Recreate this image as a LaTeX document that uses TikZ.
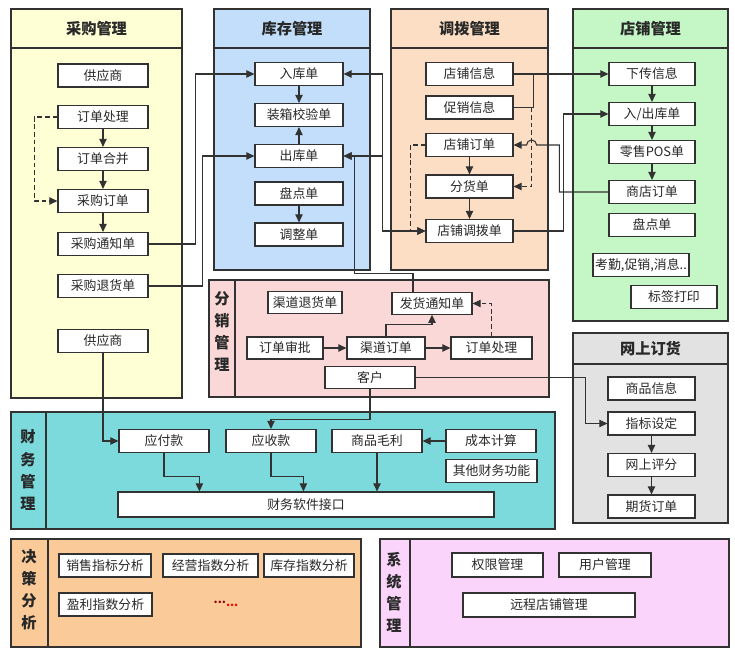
\documentclass[tikz,border=0pt]{standalone}
\usepackage{fontspec}
\setmainfont{Noto Sans CJK SC}
\usetikzlibrary{arrows.meta,calc}
\definecolor{framegray}{RGB}{50,50,50}
\definecolor{textgray}{RGB}{40,40,40}
\definecolor{cgyellow}{RGB}{255,255,214}
\definecolor{kcblue}{RGB}{194,222,250}
\definecolor{dbpeach}{RGB}{252,222,196}
\definecolor{dpgreen}{RGB}{196,246,198}
\definecolor{wsgray}{RGB}{226,226,226}
\definecolor{fxpink}{RGB}{250,216,216}
\definecolor{cwteal}{RGB}{124,218,220}
\definecolor{jcorange}{RGB}{250,202,152}
\definecolor{xtviolet}{RGB}{250,212,250}
\tikzset{
  panel/.style={draw=framegray, line width=0.9pt},
  box/.style={rectangle, draw=framegray, line width=1pt, fill=white, text=textgray,
              minimum width=2.64cm, minimum height=0.69cm, inner sep=0pt,
              font=\fontsize{11}{13}\selectfont},
  cgbox/.style={box, minimum width=2.7cm},
  paneltitle/.style={text=textgray, font=\fontsize{13}{15}\selectfont\bfseries},
  vtitle/.style={text=textgray, align=center, font=\fontsize{13}{18.8}\selectfont\bfseries},
  arrow/.style={-{Triangle[length=2.4mm,width=2.2mm]}, line width=0.9pt, framegray},
  arrowboth/.style={arrow, {Triangle[length=2.4mm,width=2.2mm]}-{Triangle[length=2.4mm,width=2.2mm]}},
  dashline/.style={arrow, dash pattern=on 4pt off 2.5pt},
  link/.style={line width=0.9pt, framegray},
}
\begin{document}
\begin{tikzpicture}[x=0.03cm, y=-0.03cm]
\fill[white] (0,0) rectangle (735,657);
\useasboundingbox (0,0) rectangle (735,657);

% panels
\draw[panel, fill=cgyellow] (11,9) rectangle (182,398);
\draw[panel] (11,48) -- (182,48);
\draw[panel, fill=kcblue] (214,9) rectangle (370,270);
\draw[panel] (214,48) -- (370,48);
\draw[panel, fill=dbpeach] (391,9) rectangle (548,270);
\draw[panel] (391,48) -- (548,48);
\draw[panel, fill=dpgreen] (573,9) rectangle (728,321);
\draw[panel] (573,48) -- (728,48);
\draw[panel, fill=wsgray] (573,333) rectangle (728,523);
\draw[panel] (573,364) -- (728,364);
\draw[panel, fill=fxpink] (209,280) rectangle (549,397);
\draw[panel] (235,280) -- (235,397);
\draw[panel, fill=cwteal] (11,412) rectangle (555,529);
\draw[panel] (46,412) -- (46,529);
\draw[panel, fill=jcorange] (11,539) rectangle (361,647);
\draw[panel] (48,539) -- (48,647);
\draw[panel, fill=xtviolet] (380,539) rectangle (729,647);
\draw[panel] (410,539) -- (410,647);

\node[paneltitle] (cgt) at (96.5,28.5) {采购管理};
\node[paneltitle] (kct) at (292,28.5) {库存管理};
\node[paneltitle] (dbt) at (469.5,28.5) {调拨管理};
\node[paneltitle] (dpt) at (650.5,28.5) {店铺管理};
\node[paneltitle] (wst) at (650.5,348.5) {网上订货};
\node[vtitle] (fxt) at (222,331.5) {分\\销\\管\\理};
\node[vtitle] (cwt) at (28,470) {财\\务\\管\\理};
\node[vtitle] (jct) at (29,590) {决\\策\\分\\析};
\node[vtitle] (xtt) at (394,592) {系\\统\\管\\理};

% 采购管理
\node[cgbox] (gys) at (103,75.5) {供应商};
\node[cgbox] (ddcl) at (103,117) {订单处理};
\node[cgbox] (ddhb) at (103,159) {订单合并};
\node[cgbox] (cgdd) at (103,201) {采购订单};
\node[cgbox] (cgtz) at (103,244) {采购通知单};
\node[cgbox] (cgth) at (103,286) {采购退货单};
\node[cgbox] (gys2) at (103,341) {供应商};

% 库存管理
\node[box] (rkd) at (299,74) {入库单};
\node[box] (zxjy) at (299,115) {装箱校验单};
\node[box] (ckd) at (299,156) {出库单};
\node[box] (pdd) at (299,193.5) {盘点单};
\node[box] (tzd) at (299,234.5) {调整单};

% 调拨管理
\node[box, minimum width=2.61cm] (dpxx) at (469.5,74) {店铺信息};
\node[box, minimum width=2.61cm] (cxxx) at (469.5,107.5) {促销信息};
\node[box, minimum width=2.61cm] (dpdd) at (469.5,145) {店铺订单};
\node[box, minimum width=2.61cm] (fhd) at (469.5,186.5) {分货单};
\node[box, minimum width=2.61cm] (dbd) at (469.5,231) {店铺调拨单};

% 店铺管理
\node[box, minimum width=2.58cm] (xcxx) at (652,74) {下传信息};
\node[box, minimum width=2.58cm] (rck) at (652,114) {入/出库单};
\node[box, minimum width=2.58cm] (pos) at (652,152) {零售POS单};
\node[box, minimum width=2.58cm] (sddd) at (652,192) {商店订单};
\node[box, minimum width=2.58cm] (pdd2) at (652,225) {盘点单};
\node[box, minimum width=2.88cm] (kq) at (641,265) {考勤,促销,消息..};
\node[box, minimum width=2.58cm] (bqdy) at (674,297) {标签打印};

% 网上订货
\node[box, minimum width=2.61cm] (spxx) at (651.5,388.5) {商品信息};
\node[box, minimum width=2.61cm] (zbsd) at (651.5,423.5) {指标设定};
\node[box, minimum width=2.61cm] (wspf) at (651.5,465) {网上评分};
\node[box, minimum width=2.61cm] (hqdd) at (651.5,506.5) {期货订单};

% 分销管理
\node[box, minimum width=2.22cm, minimum height=0.64cm] (qdth) at (305,302.5) {渠道退货单};
\node[box, minimum width=2.4cm, minimum height=0.64cm] (fhtz) at (432,303.5) {发货通知单};
\node[box, minimum width=2.28cm, minimum height=0.66cm] (ddsp) at (285,348) {订单审批};
\node[box, minimum width=2.34cm, minimum height=0.66cm] (qddd) at (386,348) {渠道订单};
\node[box, minimum width=2.43cm, minimum height=0.66cm] (ddcl2) at (491.5,348) {订单处理};
\node[box, minimum width=2.7cm, minimum height=0.64cm] (kh) at (370,377.5) {客户};

% 财务管理
\node[cgbox] (yfk) at (164,441) {应付款};
\node[cgbox] (ysk) at (271,441) {应收款};
\node[cgbox] (spml) at (377,441) {商品毛利};
\node[cgbox] (cbjs) at (491,441) {成本计算};
\node[box, minimum width=2.73cm] (qtcw) at (491.5,471) {其他财务功能};
\node[box, minimum width=11.28cm, minimum height=0.75cm] (rj) at (306,504.5) {财务软件接口};

% 决策分析
\node[box, minimum width=2.76cm] (xszb) at (105,565.5) {销售指标分析};
\node[box, minimum width=2.85cm] (jyzs) at (210.5,565.5) {经营指数分析};
\node[box, minimum width=2.7cm] (kczs) at (309,565.5) {库存指数分析};
\node[box, minimum width=2.79cm] (ylzs) at (105.5,604.5) {盈利指数分析};
\node[font=\bfseries] (more) at (226,604) {{\color{red!55!black}\raisebox{0.45ex}{...}}{\color{red}...}};

% 系统管理
\node[box, minimum width=2.73cm, minimum height=0.72cm] (qxgl) at (497.5,565) {权限管理};
\node[box, minimum width=2.76cm, minimum height=0.72cm] (yhgl) at (605,565) {用户管理};
\node[box, minimum width=5.16cm, minimum height=0.72cm] (ycdp) at (549,605) {远程店铺管理};

% connectors
\foreach \a/\b in {ddcl/ddhb, ddhb/cgdd, cgdd/cgtz, rkd/zxjy, ckd/zxjy, pdd/tzd,
                   dpdd/fhd, fhd/dbd, xcxx/rck, rck/pos, pos/sddd, zbsd/wspf,
                   wspf/hqdd, ddsp/qddd, qddd/ddcl2, cbjs/spml, dpxx/xcxx}
  \draw[arrow] (\a) -- (\b);

\draw[dashline] (ddcl.west) -- ++(-23,0) |- (cgdd.west);
\draw[arrow] (cgtz.east) -- ++(47,0) |- (rkd.west);
\draw[arrow] (cgth.east) -- ++(54,0) |- (ckd.west);

\coordinate (kcj) at (382,156);
\draw[arrowboth] (rkd.east) -- ++(39,0) |- (dbd.west);
\draw[arrow] (kcj) -- (ckd.east);
\draw[arrow] ($(fhtz.north)+(-19,0)$) -- ++(0,-19) -| ($(ckd.east)+(11,0)$) -- (ckd.east);

\draw[dashline] (dpdd.west) -- ++(-15,0) |- (dbd.west);
\draw[link] (cxxx.east) -| ($(dpxx.east)+(20,0)$);
\draw[dashline] ($(cxxx.east)+(18,0)$) |- (fhd.east);
\draw[arrow] (dbd.east) -- ++(50,0) |- (rck.west);
\draw[arrow] (sddd.west) -- ++(-49,0) |- ($(dpdd.east)+(23,0)$)
  arc[start angle=0, end angle=180, radius=0.15cm] -- (dpdd.east);

\draw[arrow] (qddd.north) -- ++(0,-12) -| (fhtz.south);
\draw[dashline] (ddcl2.north) |- (fhtz.east);
\draw[arrow] (kh.east) -- ++(170,0) |- (zbsd.west);
\draw[arrow] (kh.south) -- ++(0,31) -| (ysk.north);
\draw[arrow] (gys2.south) |- (yfk.west);

\draw[arrow] (yfk.south) -- ++(0,23) -| ($(rj.north west)+(82,0)$);
\draw[arrow] (ysk.south) -- ++(0,23) -| ($(rj.north west)+(186,0)$);
\draw[arrow] (spml.south) -- (spml.south |- rj.north);
\end{tikzpicture}
\end{document}
